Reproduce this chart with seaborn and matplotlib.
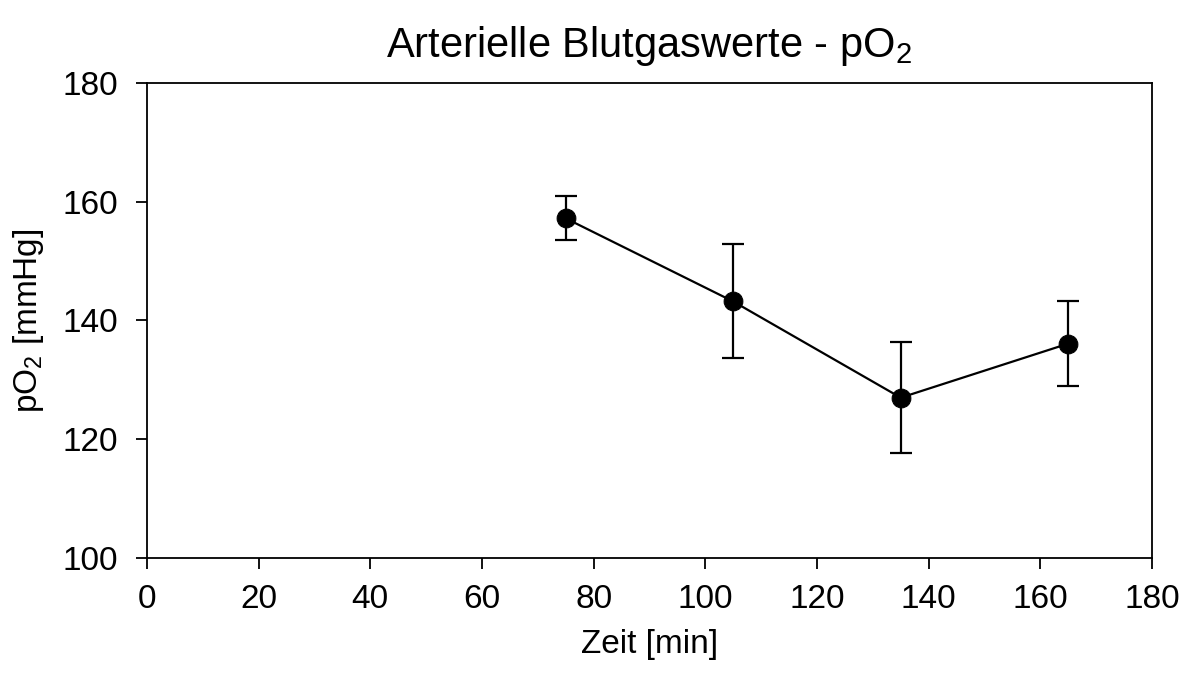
import matplotlib
matplotlib.use("Agg")
import matplotlib.pyplot as plt
import seaborn as sns
import pandas as pd

zeit = [75, 105, 135, 165]
po2 = [157.2, 143.2, 127.0, 136.1]
po2_err = [3.7, 9.6, 9.4, 7.2]

sns.set_theme(style="white")
plt.rcParams['font.family'] = ['Liberation Sans', 'DejaVu Sans']
plt.rcParams['mathtext.fontset'] = 'custom'
plt.rcParams['mathtext.rm'] = 'Liberation Sans'
plt.rcParams['mathtext.it'] = 'Liberation Sans'

df = pd.DataFrame({"Zeit": zeit, "pO2": po2, "err": po2_err})

fig = plt.figure(figsize=(11.94, 6.73), dpi=100)
ax = fig.add_axes([0.1231, 0.1709, 0.8417, 0.7058])

ax.errorbar(df["Zeit"], df["pO2"], yerr=df["err"], fmt="none", ecolor="black",
            elinewidth=1.6, capsize=7.8, capthick=1.6, zorder=2)
sns.lineplot(data=df, x="Zeit", y="pO2", ax=ax, color="black", linewidth=1.6,
             marker="o", markersize=13.5, markeredgecolor="black",
             markerfacecolor="black", zorder=3)

ax.set_xlim(0, 180)
ax.set_ylim(100, 180)
ax.set_xticks(range(0, 181, 20))
ax.set_yticks(range(100, 181, 20))
for s in ax.spines.values():
    s.set_color("black")
    s.set_linewidth(1.3)
ax.tick_params(axis="both", direction="out", length=8, width=1.3, color="black",
               labelsize=24, labelcolor="black", bottom=True, left=True)
ax.tick_params(axis="x", pad=11)
ax.tick_params(axis="y", pad=13)
ax.set_xlabel("Zeit [min]", fontsize=24, color="black", labelpad=10)
ax.set_ylabel(r"$\mathregular{pO_2}$ [mmHg]", fontsize=24, color="black", labelpad=12)
ax.set_title(r"Arterielle Blutgaswerte - $\mathregular{pO_2}$", fontsize=30,
             color="black", pad=19)
ax.grid(False)

fig.savefig("out.png", dpi=100, facecolor="white")
